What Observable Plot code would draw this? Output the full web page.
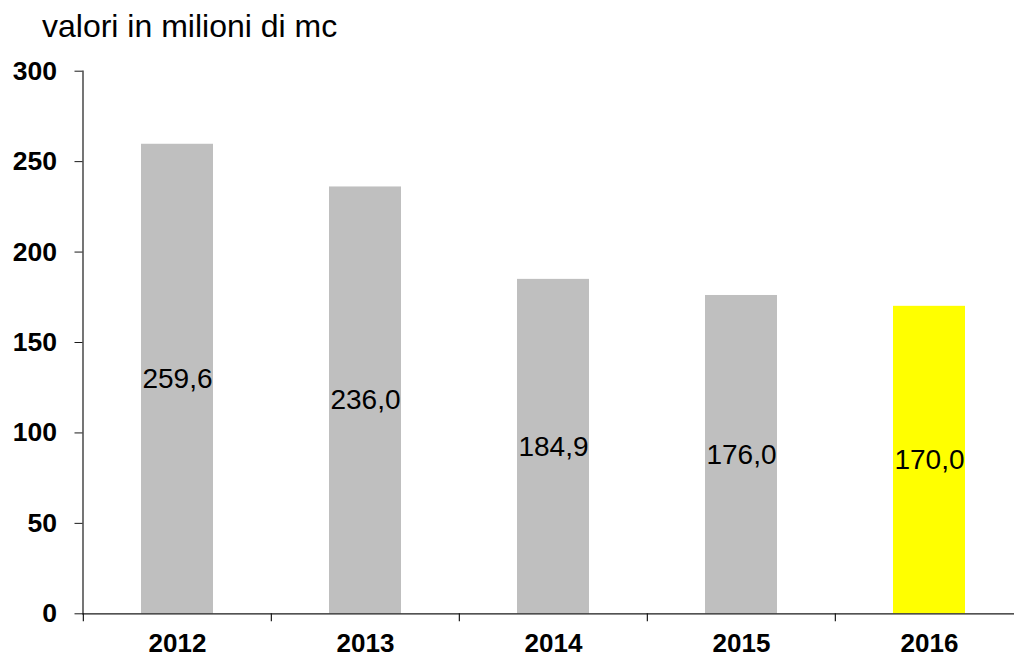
<!DOCTYPE html>
<html>
<head>
<meta charset="utf-8">
<script src="https://cdn.jsdelivr.net/npm/d3@7"></script>
<script src="https://cdn.jsdelivr.net/npm/@observablehq/plot@0.6"></script>
<style>
  html, body { margin: 0; padding: 0; background: #fff; }
  #title { font-family: "Liberation Sans", Arial, sans-serif; font-size: 32px; line-height: 36px;
           height: 56px; box-sizing: border-box; padding: 8px 0 0 42px; color: #000; }
  #chart svg { display: block; }
</style>
</head>
<body>
<div id="title">valori in milioni di mc</div>
<div id="chart"></div>
<script>
const years = ["2012", "2013", "2014", "2015", "2016"];
const values = [259.6, 236.0, 184.9, 176.0, 170.0];
const colors = ["#BFBFBF", "#BFBFBF", "#BFBFBF", "#BFBFBF", "#FFFF00"];
const yTicks = [0, 50, 100, 150, 200, 250, 300];

const data = years.map((y, i) => ({year: y, value: values[i], color: colors[i]}));
const fmt = v => v.toFixed(1).replace(".", ",");

const W = 1014, H = 602;
const mL = 82.5, mT = 14.7, mB = 44.7;
const xRange = [mL, 1024];
const step = (xRange[1] - xRange[0]) / years.length;
const font = "'Liberation Sans', Arial, sans-serif";
const axisColor = "#1a1a1a";

const chart = Plot.plot({
  width: W,
  height: H,
  marginLeft: mL,
  marginRight: 0,
  marginTop: mT,
  marginBottom: mB,
  style: {fontFamily: font, color: "#000", background: "#fff", overflow: "visible"},
  x: {domain: years, range: xRange, paddingInner: 0.618, paddingOuter: 0.309, align: 0.5},
  y: {domain: [0, 300]},
  color: {type: "identity"},
  marks: [
    Plot.barY(data, {x: "year", y: "value", fill: "color"}),
    Plot.text(data, {x: "year", y: d => d.value / 2, text: d => fmt(d.value),
      fontSize: 28, fill: "#000"}),
    Plot.frame({anchor: "left", stroke: axisColor, strokeWidth: 1.2}),
    Plot.frame({anchor: "bottom", stroke: axisColor, strokeWidth: 1.2}),
    Plot.axisY({ticks: yTicks, tickSize: 8, tickPadding: 18, fontSize: 26.5, fontWeight: "bold",
      stroke: axisColor, label: null, tickFormat: d => String(d)}),
    Plot.ruleX(years, {x: d => d, y1: 0, y2: 0, insetBottom: -8, dx: -step / 2,
      stroke: axisColor, strokeWidth: 1.2}),
    Plot.axisX({tickSize: 0, tickPadding: 20, fontSize: 26, fontWeight: "bold", label: null,
      lineAnchor: "top"})
  ]
});
document.getElementById("chart").appendChild(chart);
</script>
</body>
</html>
